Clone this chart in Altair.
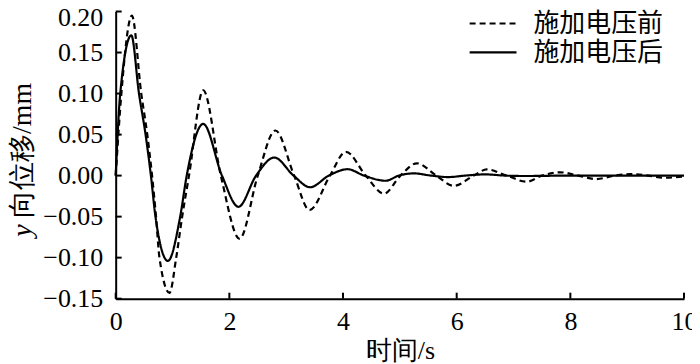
import altair as alt
import pandas as pd

SERIES = ["施加电压前", "施加电压后"]

# dashed curve: before voltage
T_BEFORE = [0, 0.10, 0.285, 0.45, 0.556, 0.64, 0.71, 0.77, 0.947, 1.065, 1.17, 1.29,
            1.54, 1.85, 2.18, 2.50, 2.81, 3.14, 3.41, 3.77, 4.05, 4.40, 4.72, 5.01,
            5.30, 5.64, 5.95, 6.30, 6.53, 6.88, 7.23, 7.50, 7.82, 8.14, 8.46, 8.78,
            9.05, 9.37, 9.66, 10.0]
V_BEFORE = [0, 0.10, 0.195, 0.10, 0.05, 0.0, -0.05, -0.10, -0.143, -0.10, -0.05, 0.0,
            0.104, 0.0, -0.077, 0.0, 0.055, 0.0, -0.042, 0.0, 0.029, 0.0, -0.022, 0.0,
            0.015, 0.0, -0.0125, 0.0, 0.0075, 0.0, -0.0075, 0.0, 0.004, 0.0, -0.0042, 0.0,
            0.0018, 0.0, -0.0026, -0.0012]

# solid curve: after voltage
T_AFTER = [0, 0.08, 0.275, 0.41, 0.526, 0.62, 0.70, 0.918, 1.135, 1.25, 1.54, 1.87,
           2.16, 2.47, 2.79, 3.13, 3.42, 3.75, 4.08, 4.37, 4.75, 4.98, 5.25, 5.55,
           5.85, 6.15, 6.50, 6.85, 7.20, 8.0, 10.0]
V_AFTER = [0, 0.10, 0.171, 0.10, 0.05, 0.0, -0.05, -0.104, -0.05, 0.0, 0.063, 0.0,
           -0.038, 0.0, 0.022, 0.0, -0.0142, 0.0, 0.0078, 0.0, -0.0063, 0.0, 0.0027, 0.0,
           -0.0018, 0.0, 0.0015, 0.0, -0.0005, 0.0, 0.0]

Y_TICKS = [-0.15, -0.10, -0.05, 0.00, 0.05, 0.10, 0.15, 0.20]
X_TICKS = [0, 2, 4, 6, 8, 10]
X_TITLE = "时间/s"
Y_TITLE_ITALIC = "y"
Y_TITLE_REST = "向位移/mm"

df = pd.concat([
    pd.DataFrame({"t": T_BEFORE, "v": V_BEFORE, "series": SERIES[0]}),
    pd.DataFrame({"t": T_AFTER, "v": V_AFTER, "series": SERIES[1]}),
], ignore_index=True)

W, H = 570, 288
SERIF = "Liberation Serif"
CJK = "Noto Sans CJK SC"
FS = 26

xs = alt.Scale(domain=[0, 10], nice=False, zero=False)
ys = alt.Scale(domain=[-0.15, 0.20], nice=False, zero=False)

lines = alt.Chart(df).mark_line(strokeWidth=2.2, interpolate="monotone", color="black").encode(
    x=alt.X("t:Q", scale=xs, axis=alt.Axis(
        values=X_TICKS, format="d", title=X_TITLE, ticks=False, grid=False,
        domainColor="black", domainWidth=2, labelFlush=False,
        labelFont=SERIF, labelFontSize=FS, labelColor="black", labelPadding=10,
        titleFont=SERIF, titleFontSize=FS, titleFontWeight="normal", titleColor="black",
        titlePadding=3)),
    y=alt.Y("v:Q", scale=ys, axis=alt.Axis(
        values=Y_TICKS, format=".2f", title=None, ticks=False, grid=False,
        domainColor="black", domainWidth=2, labelFlush=False,
        labelFont=SERIF, labelFontSize=FS, labelColor="black", labelPadding=13,
        labelOffset={"condition": {"test": "datum.value >= 0.2", "value": 6}, "value": 0})),
    strokeDash=alt.StrokeDash("series:N", scale=alt.Scale(domain=SERIES, range=[[6, 4], [1, 0]]), legend=None),
    detail="series:N",
)

yticks = alt.Chart(pd.DataFrame({"v": Y_TICKS})).mark_rule(color="black", strokeWidth=2).encode(
    y=alt.Y("v:Q", scale=ys), x=alt.value(0), x2=alt.value(6))
xticks = alt.Chart(pd.DataFrame({"t": X_TICKS})).mark_rule(color="black", strokeWidth=2).encode(
    x=alt.X("t:Q", scale=xs), y=alt.value(H), y2=alt.value(H - 6))

# legend (manual)
leg_items = []
for i, (name, dash) in enumerate(zip(SERIES, [[6, 4], [1, 0]])):
    yy = 12 + 29 * i
    one = pd.DataFrame({"series": [name]})
    leg_items.append(alt.Chart(one).mark_rule(color="black", strokeWidth=2.2, strokeDash=dash).encode(
        x=alt.value(355), x2=alt.value(402), y=alt.value(yy)))
    leg_items.append(alt.Chart(one).mark_text(align="left", baseline="middle", font=CJK,
                                              fontSize=26, color="black").encode(
        text="series:N", x=alt.value(419), y=alt.value(yy + 1)))

# y title: italic y + rest
yt1 = alt.Chart(pd.DataFrame({"s": [Y_TITLE_ITALIC]})).mark_text(
    angle=270, align="left", baseline="middle", font=SERIF, fontStyle="italic",
    fontSize=28, color="black").encode(text="s:N", x=alt.value(-93), y=alt.value(226))
yt2 = alt.Chart(pd.DataFrame({"s": [Y_TITLE_REST]})).mark_text(
    angle=270, align="left", baseline="middle", font=SERIF,
    fontSize=28, color="black").encode(text="s:N", x=alt.value(-93), y=alt.value(207))

chart = alt.layer(lines, yticks, xticks, *leg_items, yt1, yt2).properties(
    width=W, height=H,
    padding={"left": 108, "top": 3, "right": 8, "bottom": 65},
    autosize=alt.AutoSizeParams(type="none"),
).configure_view(stroke=None)

chart.save("out.html", embed_options={"renderer": "svg", "actions": False})
